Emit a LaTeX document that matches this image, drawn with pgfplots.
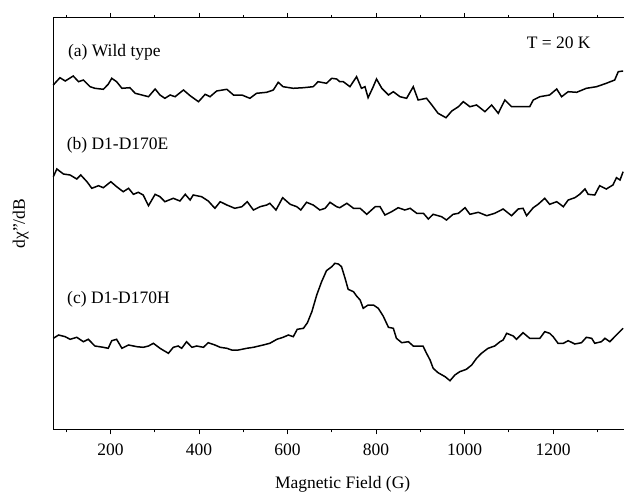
\documentclass[border=0pt]{standalone}
\usepackage{fontspec}
\setmainfont{Liberation Serif}
\usepackage{pgfplots}
\pgfplotsset{compat=1.18}
\newcommand{\lf}{\fontsize{17.5bp}{20bp}\selectfont}
\begin{document}
\begin{tikzpicture}
\useasboundingbox (-53.3bp,-63.7bp) rectangle (570.7bp,429.3bp);
\begin{axis}[
  at={(0,0)}, anchor=south west,
  scale only axis, width=570.7bp, height=411.3bp,
  xmin=71, xmax=1360, ymin=18, ymax=429.3, y dir=reverse,
  axis x line*=box, axis y line*=left,
  xtick={200,400,...,1200}, minor xtick={100,300,...,1300},
  xtick pos=both, xticklabel pos=lower, ytick=\empty,
  tick align=outside, major tick length=5bp, minor tick length=3bp,
  every tick/.style={black, line width=0.8bp},
  axis line style={line width=1bp},
  /pgf/number format/assume math mode=true,
  /pgf/number format/1000 sep={},
  ticklabel style={font=\lf},
  xticklabel style={anchor=base, yshift=-21bp},
  label style={font=\lf},
  xlabel={Magnetic Field (G)},
  xlabel style={at={(axis description cs:0.507,-0.144)}, anchor=base},
  ylabel={dχ"/dB},
  ylabel style={at={(axis description cs:-0.05,0.5)}, anchor=base, rotate=0},
  clip=false,
]
% (a) Wild type
\addplot[black, line width=1.5bp] coordinates {
(71,85) (86,77.7) (98,81) (116,76) (128,81.7) (139,80) (154,86.7) (165,88.3)
(184,89.3) (195,84.3) (203,78.3) (214,81.7) (226,88.3) (244,87.7) (256,93.3)
(271,95) (286,96.7) (301,89) (312,95) (323,98.3) (335,95) (346,96.7) (365,90)
(380,95.7) (399,101.7) (414,94.3) (425,96.7) (440,91) (463,89.3) (478,95)
(497,95) (515,98.3) (530,93.3) (553,92.3) (568,90) (579,82.3) (590,86.7)
(613,88.3) (636,87.7) (658,86.7) (669,81.7) (688,83.3) (700,78.3) (711,79)
(718,81.7) (726,81.7) (741,86.7) (756,76.7) (767,88.3) (775,86.7) (782,97.7)
(792,88.3) (801,79) (813,88.3) (828,95) (839,91.7) (854,96.7) (869,98.3)
(884,86.7) (895,100) (914,98.3) (926,105) (940,113.3) (958,117.7) (971,111)
(986,106.7) (997,101.7) (1012,106.7) (1027,105) (1046,111.7) (1061,105)
(1076,113.3) (1091,100) (1106,106.7) (1125,106.7) (1147,106.7) (1155,100)
(1170,96.7) (1192,95) (1208,89) (1219,96.7) (1234,91.7) (1253,92.3)
(1275,88.3) (1298,86.7) (1320,83.3) (1339,80) (1347,71.7) (1358,71)
};
% (b) D1-D170E
\addplot[black, line width=1.5bp] coordinates {
(71,176.7) (79,169) (94,174) (109,175) (124,179) (133,175) (147,181.7)
(158,188.3) (173,185.7) (184,187.7) (201,181.7) (214,186.7) (229,191.7)
(241,188.3) (252,194.3) (263,192.3) (274,195) (286,205.7) (301,194.3)
(312,196.7) (323,201.7) (342,198.3) (357,201) (369,194.3) (380,200)
(387,195) (406,196.7) (421,201) (436,208.3) (448,201.7) (463,205)
(481,208.3) (497,206.7) (509,201.7) (523,210) (538,206.7) (553,205)
(560,203.3) (574,210) (589,197.7) (606,204.3) (621,206.7) (630,210)
(643,202.3) (658,205) (673,210) (685,208.3) (696,202.3) (711,206.7)
(718,207.7) (734,203.3) (749,208.3) (764,208.3) (779,214.3) (798,206.7)
(809,206.7) (820,215) (835,211.7) (850,207.7) (865,210) (877,208.3)
(892,213.3) (907,213.3) (918,219) (929,214.3) (948,216.7) (959,220)
(974,214.3) (986,213.3) (1001,207.7) (1012,214.3) (1031,212.3) (1050,215.7)
(1068,213.3) (1087,209) (1106,215.7) (1121,209) (1132,208.3) (1140,215.7)
(1155,207.7) (1166,204.3) (1181,198.3) (1192,204.3) (1208,201.7)
(1223,206.7) (1234,200) (1249,197.7) (1260,194.3) (1272,189) (1279,194.3)
(1294,195) (1305,185.7) (1320,189) (1335,185) (1343,177.7) (1351,180)
(1358,171.7)
};
% (c) D1-D170H
\addplot[black, line width=1.5bp] coordinates {
(71,338.3) (83,335) (98,336.7) (109,339.3) (124,337.3) (139,341.7)
(150,339.3) (165,346) (184,347.3) (195,348.3) (203,340.7) (214,339.3)
(226,348.3) (241,345) (260,346.7) (274,347.3) (286,346) (297,343.3)
(312,348.3) (331,353.3) (342,347.3) (353,346) (361,348.3) (372,341.7)
(384,347.3) (395,346) (410,347.3) (421,342.7) (436,345) (448,347.3)
(463,348.3) (474,350) (489,350) (508,348.3) (523,347.3) (545,345)
(560,343.3) (576,339.3) (590,337.3) (602,335) (613,336.7) (622,329.3)
(636,328.3) (645,322.7) (655,311.7) (666,295) (677,281.7) (688,270.7)
(700,266.7) (707,263.3) (715,264) (722,266.7) (730,278.3) (737,289.3)
(749,291.7) (756,296) (764,300) (771,308.3) (782,305) (794,305)
(805,308.3) (816,316) (828,327.3) (839,328.3) (846,338.3) (858,342.7)
(873,341.7) (884,346) (895,346) (906,346) (914,353.3) (922,360)
(929,368.3) (940,372.7) (956,376.7) (967,380.7) (978,375) (989,371.7)
(1004,369.3) (1016,365) (1027,358.3) (1038,353.3) (1053,348.3) (1068,346)
(1080,341.7) (1087,340) (1095,333.3) (1110,336) (1117,339.3) (1132,332.7)
(1147,338.3) (1170,338.3) (1181,331.7) (1192,333.3) (1200,336.7)
(1211,343.3) (1223,343.3) (1234,340.7) (1249,344) (1264,342.7)
(1275,337.3) (1287,338.3) (1294,343.3) (1309,341.7) (1317,338.3)
(1328,341.7) (1339,336.7) (1358,328.3)
};
\node[anchor=base west, inner sep=0, font=\lf] at (axis cs:104,56.7) {(a) Wild type};
\node[anchor=base west, inner sep=0, font=\lf] at (axis cs:101,149) {(b) D1-D170E};
\node[anchor=base west, inner sep=0, font=\lf] at (axis cs:102,303.8) {(c) D1-D170H};
\node[anchor=base west, inner sep=0, font=\lf] at (axis cs:1140,48.3) {T = 20 K};
\end{axis}
\end{tikzpicture}
\end{document}
